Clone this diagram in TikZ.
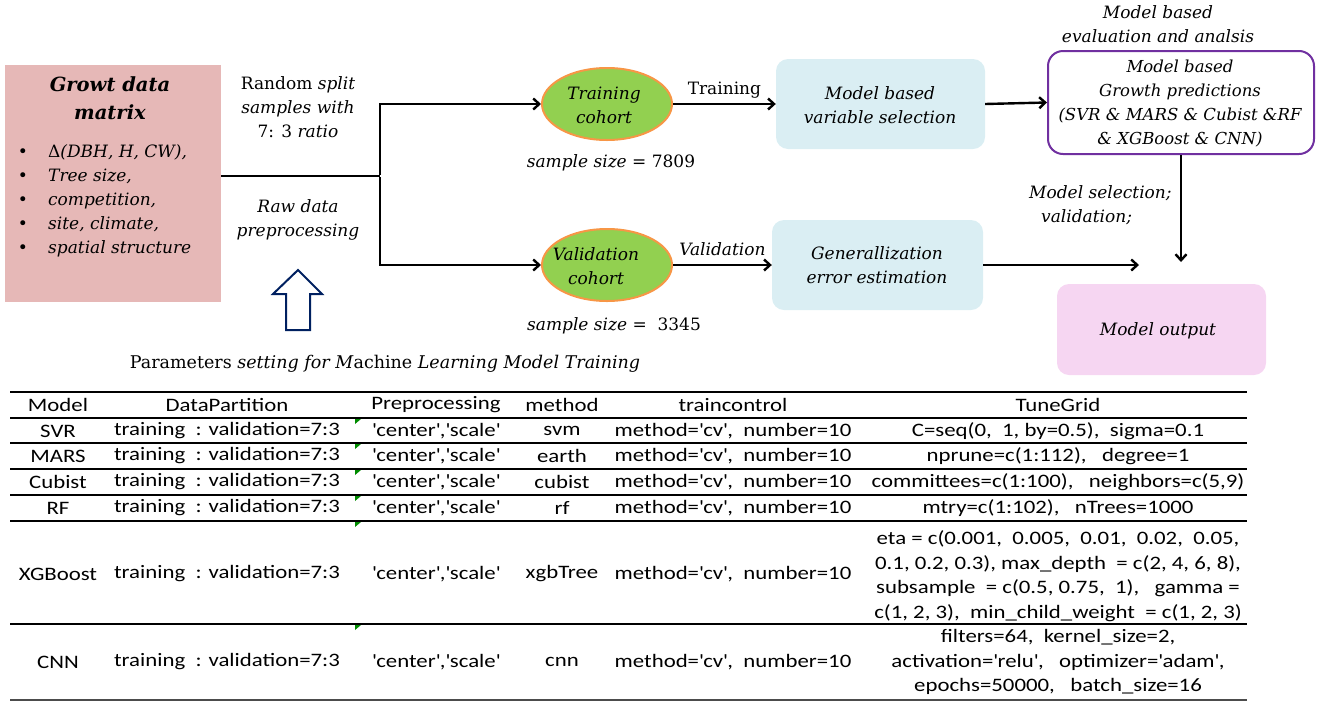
\documentclass[tikz,border=0pt]{standalone}
\usepackage{fontspec}
\setmainfont{DejaVu Serif}
\newfontfamily\tabfont[FakeStretch=1.2]{Carlito}
\usetikzlibrary{arrows.meta,shapes.geometric}
\definecolor{pinkbox}{RGB}{230,184,183}
\definecolor{cohortgreen}{RGB}{146,208,80}
\definecolor{cohortorange}{RGB}{247,150,70}
\definecolor{lightblue}{RGB}{218,238,243}
\definecolor{purpleedge}{RGB}{112,48,160}
\definecolor{outpink}{RGB}{246,214,242}
\definecolor{navyedge}{RGB}{0,32,96}
\definecolor{markgreen}{RGB}{0,140,0}
\newcommand{\sq}{\textquotesingle}
\begin{document}
\begin{tikzpicture}[x=1pt,y=-1pt,
  dtext/.style={font=\fontsize{17}{24}\selectfont\itshape, inner sep=0pt, align=center},
  ttext/.style={font=\tabfont\fontsize{19}{24.5}\selectfont, inner sep=0pt, align=center},
  arr/.style={line width=2.4pt, -{Straight Barb[length=6pt,width=11pt,line width=2.4pt]}},
  plain/.style={line width=2.4pt},
  cohort/.style={ellipse, draw=cohortorange, fill=cohortgreen, line width=2pt, minimum width=130pt, minimum height=72pt, inner sep=0pt},
  bluebox/.style={rounded corners=12pt, fill=lightblue, inner sep=0pt},
  tline/.style={line width=1.6pt},
  gmark/.style={fill=markgreen}
]
\useasboundingbox (0,0) rectangle (1319,702);

% ---------- flow diagram ----------
\node[fill=pinkbox, minimum width=216pt, minimum height=237pt, inner sep=0pt] (data) at (113,183.5) {};
\node[dtext, font=\fontsize{19.5}{28}\selectfont\bfseries\itshape] (datatitle) at (110,98) {Growt data\\matrix};
\node[dtext, align=left, anchor=center] (bullets) at (23,201) {\upshape•\\\upshape•\\\upshape•\\\upshape•\\\upshape•};
\node[dtext, align=left, anchor=west] (items) at (48,201) {{\upshape Δ}(DBH, H, CW),\\Tree size,\\competition,\\site, climate,\\spatial structure};

\node[dtext] (splitlbl) at (298,107) {{\upshape Random} split\\samples with\\{\upshape 7: 3} ratio};
\node[dtext] (rawlbl) at (298,220) {Raw data\\preprocessing};

\node[cohort] (train) at (607,104) {};
\node[dtext] (traintxt) at (604,105.5) {Training\\cohort};
\node[cohort] (valid) at (607,265) {};
\node[dtext] (validtxt) at (596,266) {Validation\\cohort};
\node[dtext] (ss1) at (611,163) {sample size {\upshape = 7809}};
\node[dtext] (ss2) at (614,326) {sample size {\upshape = \ 3345}};

\coordinate (j) at (380,176);
\draw[plain] (data.east |- j) -- (j);
\draw[arr] ([yshift=1.2pt]j) |- (train.west);
\draw[arr] ([yshift=-1.2pt]j) |- (valid.west);

\node[bluebox, minimum width=209pt, minimum height=90pt] (varsel) at (880.5,104) {};
\node[dtext] (varseltxt) at (880,105) {Model based\\variable selection};
\node[bluebox, minimum width=211pt, minimum height=90pt] (gen) at (877.5,265) {};
\node[dtext] (gentxt) at (877,265) {Generallization\\error estimation};

\draw[arr] (train.east) -- (varsel.west) node[midway, above=5pt, dtext, font=\fontsize{17}{24}\selectfont\upshape] (trainlbl) {Training};
\draw[arr] (valid.east) -- (gen.west) node[midway, above=8pt, dtext] (validlbl) {Validation};

\node[draw=purpleedge, line width=2pt, rounded corners=15pt, minimum width=266pt, minimum height=103pt, inner sep=0pt] (pred) at (1181,102.5) {};
\node[dtext, font=\fontsize{16.5}{24}\selectfont\itshape] (predtxt) at (1180,104) {Model based\\Growth predictions\\(SVR \& MARS \& Cubist \&RF\\\& XGBoost \& CNN)};
\node[dtext] (evallbl) at (1158,24.5) {Model based\\evaluation and analsis};

\draw[arr] (varsel.east) -- (pred.west);

\coordinate (outtop) at (1181,262);
\draw[arr] (pred.south) -- (outtop);
\node[dtext, anchor=west] (msel) at (1029,193) {Model selection;};
\node[dtext, anchor=west] (mval) at (1041,217) {validation;};

\coordinate (outleft) at (1139,265);
\draw[arr] (gen.east) -- (outleft);

\node[rounded corners=12pt, fill=outpink, minimum width=209pt, minimum height=91pt, inner sep=0pt] (out) at (1161.5,329.5) {};
\node[dtext] (outtxt) at (1158,331) {Model output};

% hollow up arrow
\draw[navyedge, line width=2pt, line join=miter] (298,270) -- (322,294) -- (310,294) -- (310,330) -- (286,330) -- (286,294) -- (273,294) -- cycle;

\node[dtext, font=\fontsize{17.5}{24}\selectfont] (paramlbl) at (385,364) {Parameters \textit{setting for M}achine \textit{Learning Model Training}};

% ---------- table ----------
\draw[tline, line width=2pt] (10,392) -- (1247,392);
\draw[tline, line width=2pt] (10,418) -- (1247,418);
\draw[tline] (10,443) -- (1247,443);
\draw[tline] (10,469) -- (1247,469);
\draw[tline] (10,495) -- (1247,495);
\draw[tline] (10,521) -- (1247,521);
\draw[tline] (10,624) -- (1247,624);
\draw[tline, draw=black!70] (10,700) -- (1247,700);

\foreach \ly in {418,443,469,495,521,624}
  \fill[gmark] (355,\ly+1) -- (361,\ly+1) -- (355,\ly+6) -- cycle;

\node[ttext] (h1) at (58,405) {Model};
\node[ttext] (h2) at (227,405) {DataPartition};
\node[ttext] (h3) at (436,405) {Preprocessing};
\node[ttext] (h4) at (562,405) {method};
\node[ttext] (h5) at (733,405) {traincontrol};
\node[ttext] (h6) at (1058,405) {TuneGrid};

\node[ttext] (m1) at (58,431) {SVR};
\node[ttext] (m2) at (58,456) {MARS};
\node[ttext] (m3) at (58,482) {Cubist};
\node[ttext] (m4) at (58,508) {RF};
\node[ttext] (m5) at (58,574) {XGBoost};
\node[ttext] (m6) at (58,662) {CNN};

\foreach \ry/\nm in {431/1,456/2,482/3,508/4,574/5,662/6}{
  \node[ttext] (dp\nm) at (227,\ry) {training\ \ : validation=7:3};
  \node[ttext] (pp\nm) at (436,\ry) {\sq center\sq,\sq scale\sq};
  \node[ttext] (tc\nm) at (733,\ry) {method=\sq cv\sq,\ \ number=10};
}

\node[ttext] (me1) at (562,431) {svm};
\node[ttext] (me2) at (562,456) {earth};
\node[ttext] (me3) at (562,482) {cubist};
\node[ttext] (me4) at (562,508) {rf};
\node[ttext] (me5) at (562,574) {xgbTree};
\node[ttext] (me6) at (562,662) {cnn};

\node[ttext] (tg1) at (1058,431) {C=seq(0,\ \ 1, by=0.5),\ \ sigma=0.1};
\node[ttext] (tg2) at (1058,456) {nprune=c(1:112),\ \ \ degree=1};
\node[ttext] (tg3) at (1058,482) {committees=c(1:100),\ \ \ neighbors=c(5,9)};
\node[ttext] (tg4) at (1058,508) {mtry=c(1:102),\ \ \ nTrees=1000};
\node[ttext] (tg5) at (1058,576) {eta = c(0.001,\ \ 0.005,\ \ 0.01,\ \ 0.02,\ \ 0.05,\\0.1, 0.2, 0.3), max\_depth\ \ = c(2, 4, 6, 8),\\subsample\ \ = c(0.5, 0.75,\ \ 1),\ \ \ gamma =\\c(1, 2, 3),\ \ min\_child\_weight\ \ = c(1, 2, 3)};
\node[ttext] (tg6) at (1058,662) {filters=64,\ \ kernel\_size=2,\\activation=\sq relu\sq,\ \ \ optimizer=\sq adam\sq,\\epochs=50000,\ \ \ batch\_size=16};
\end{tikzpicture}
\end{document}
